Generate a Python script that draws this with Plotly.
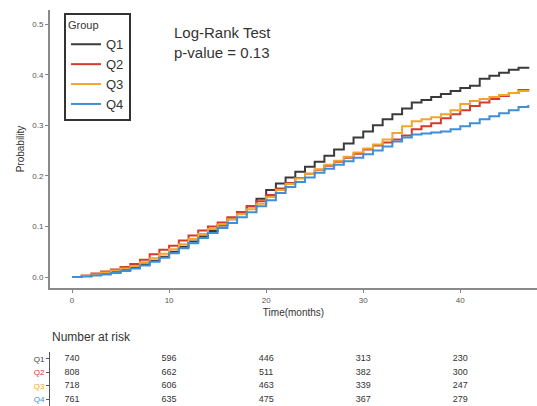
import plotly.graph_objects as go

# Follow-up time (months) at which the cumulative incidence is recorded
months = list(range(0, 48))

# Cumulative incidence (probability of event) per group
q1 = [0.000, 0.002, 0.004, 0.007, 0.010, 0.014, 0.019, 0.025, 0.032, 0.040,
      0.050, 0.060, 0.070, 0.080, 0.091, 0.102, 0.114, 0.128, 0.140, 0.155,
      0.172, 0.185, 0.197, 0.208, 0.218, 0.228, 0.240, 0.252, 0.264, 0.276,
      0.288, 0.300, 0.312, 0.322, 0.333, 0.345, 0.350, 0.356, 0.362, 0.368,
      0.374, 0.378, 0.392, 0.398, 0.404, 0.410, 0.414, 0.416]
q2 = [0.000, 0.003, 0.007, 0.011, 0.015, 0.020, 0.026, 0.034, 0.045, 0.054,
      0.062, 0.072, 0.082, 0.092, 0.100, 0.108, 0.118, 0.128, 0.140, 0.150,
      0.162, 0.175, 0.186, 0.196, 0.204, 0.212, 0.220, 0.228, 0.236, 0.244,
      0.252, 0.260, 0.266, 0.272, 0.280, 0.292, 0.298, 0.304, 0.314, 0.322,
      0.330, 0.338, 0.345, 0.352, 0.358, 0.364, 0.370, 0.372]
q3 = [0.000, 0.002, 0.005, 0.009, 0.013, 0.017, 0.022, 0.029, 0.037, 0.046,
      0.055, 0.065, 0.075, 0.085, 0.095, 0.104, 0.114, 0.124, 0.134, 0.145,
      0.158, 0.172, 0.184, 0.195, 0.204, 0.213, 0.222, 0.230, 0.238, 0.246,
      0.254, 0.262, 0.272, 0.285, 0.298, 0.308, 0.312, 0.316, 0.322, 0.330,
      0.342, 0.348, 0.352, 0.356, 0.360, 0.364, 0.368, 0.370]
q4 = [0.000, 0.001, 0.003, 0.005, 0.008, 0.012, 0.017, 0.023, 0.030, 0.038,
      0.047, 0.057, 0.067, 0.077, 0.087, 0.097, 0.107, 0.118, 0.128, 0.140,
      0.152, 0.166, 0.178, 0.188, 0.197, 0.206, 0.214, 0.222, 0.229, 0.236,
      0.243, 0.250, 0.258, 0.268, 0.276, 0.282, 0.284, 0.286, 0.288, 0.292,
      0.298, 0.304, 0.312, 0.318, 0.324, 0.330, 0.336, 0.340]

groups = ["Q1", "Q2", "Q3", "Q4"]
colors = ["#3a3a3a", "#d33b2c", "#f2a52e", "#3f8fd6"]

# Number-at-risk table
risk_times = [0, 10, 20, 30, 40]
risk_q1 = [740, 596, 446, 313, 230]
risk_q2 = [808, 662, 511, 382, 300]
risk_q3 = [718, 606, 463, 339, 247]
risk_q4 = [761, 635, 475, 367, 279]

x_ticks = [0, 10, 20, 30, 40]
y_ticks = [0.0, 0.1, 0.2, 0.3, 0.4, 0.5]

W, H = 537, 406
fig = go.Figure()

for name, vals, col in zip(groups, [q1, q2, q3, q4], colors):
    fig.add_trace(go.Scatter(
        x=months, y=vals, name=name, mode="lines",
        line=dict(color=col, width=2, shape="hv"),
        xaxis="x", yaxis="y",
    ))

# Risk table as text marks on a second axis pair sharing the time scale
for name, counts in zip(groups, [risk_q1, risk_q2, risk_q3, risk_q4]):
    fig.add_trace(go.Scatter(
        x=risk_times, y=[name] * len(risk_times),
        text=[str(c) for c in counts], mode="text",
        textfont=dict(family="Liberation Sans, Arial", size=9, color="#333333"),
        showlegend=False, hoverinfo="skip",
        xaxis="x2", yaxis="y2",
    ))

tick_font = dict(family="Liberation Sans, Arial", size=8, color="#555555")
row_labels = [f"<span style='color:{c}'>{g}</span>" for g, c in zip(groups, colors)]

fig.update_layout(
    width=W, height=H,
    margin=dict(l=50, r=0, t=0, b=0),
    paper_bgcolor="white", plot_bgcolor="white",
    font=dict(family="Liberation Sans, Arial", color="#333333"),
    showlegend=True,
    legend=dict(
        title=dict(text="Group", font=dict(size=11, color="#333333")),
        font=dict(size=13, color="#333333"),
        x=(64 - 50) / (W - 50), y=1 - 13 / H,
        xanchor="left", yanchor="top",
        bordercolor="#333333", borderwidth=2,
        bgcolor="white", itemwidth=30,
        tracegroupgap=0,
    ),
    xaxis=dict(
        domain=[0, 1], anchor="y",
        range=[-2.27, 47.9],
        tickvals=x_ticks, ticks="outside", ticklen=3, tickcolor="#888888",
        tickfont=tick_font,
        showline=True, linecolor="#8a8a8a", linewidth=2,
        showgrid=False, zeroline=False,
        title=dict(text="Time(months)", font=dict(size=10, color="#333333"), standoff=5),
    ),
    yaxis=dict(
        domain=[1 - 288 / H, 1 - 10 / H], anchor="x",
        range=[-0.0217, 0.528],
        tickvals=y_ticks, tickformat=".1f",
        ticks="outside", ticklen=3, tickcolor="#888888",
        tickfont=tick_font,
        showline=True, linecolor="#8a8a8a", linewidth=2,
        showgrid=False, zeroline=False,
        title=dict(text="Probability", font=dict(size=10, color="#333333"), standoff=6),
    ),
    xaxis2=dict(
        domain=[0, 1], anchor="y2", matches="x",
        visible=False,
    ),
    yaxis2=dict(
        domain=[0, 54 / H], anchor="x2",
        range=[3.5, -0.5],
        tickvals=groups, ticktext=row_labels,
        tickfont=dict(family="Liberation Sans, Arial", size=8),
        ticks="outside", ticklen=3, tickcolor="#555555",
        showline=True, linecolor="#555555", linewidth=1,
        showgrid=False, zeroline=False,
    ),
    annotations=[
        dict(text="Log-Rank Test<br>p-value = 0.13", xref="paper", yref="paper",
             x=(172 - 50) / (W - 50), y=1 - 22 / H, xanchor="left", yanchor="top",
             align="left", showarrow=False,
             font=dict(size=15, color="#333333")),
        dict(text="Number at risk", xref="paper", yref="paper",
             x=(50 - 50) / (W - 50), y=1 - 337 / H, xanchor="left", yanchor="middle",
             showarrow=False, font=dict(size=12, color="#333333")),
    ],
)

fig.write_html("out.html")
